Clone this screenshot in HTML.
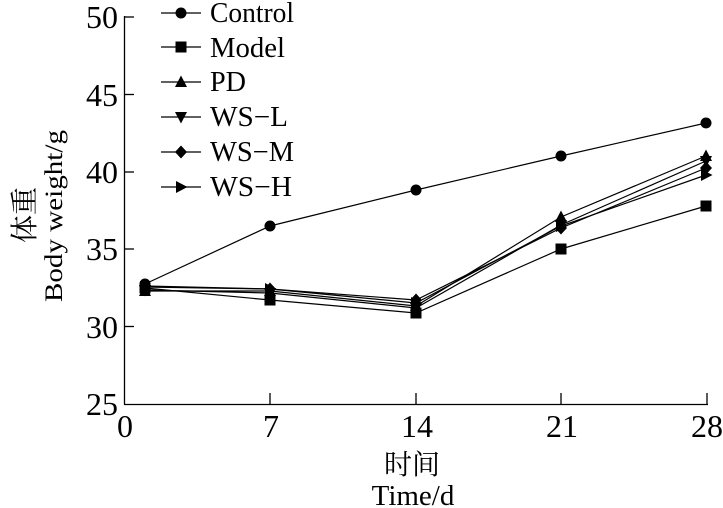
<!DOCTYPE html>
<html><head><meta charset="utf-8"><style>html,body{margin:0;padding:0;background:#fff;}svg{display:block}
.s{font-family:"Liberation Serif","Noto Serif CJK SC",serif;}
.c{font-family:"Noto Serif CJK SC","Liberation Serif",serif;}</style></head>
<body>
<svg width="723" height="508" viewBox="0 0 723 508" xmlns="http://www.w3.org/2000/svg" class="s">
<g stroke="#000" stroke-width="1.3" fill="none">
<line x1="124.5" y1="16" x2="124.5" y2="404.5"/>
<line x1="124" y1="404.5" x2="708" y2="404.5"/>
<line x1="124" y1="17" x2="134" y2="17"/>
<line x1="124" y1="94.5" x2="134" y2="94.5"/>
<line x1="124" y1="172" x2="134" y2="172"/>
<line x1="124" y1="249" x2="134" y2="249"/>
<line x1="124" y1="326.5" x2="134" y2="326.5"/>
<line x1="270" y1="404" x2="270" y2="393"/>
<line x1="416" y1="404" x2="416" y2="393"/>
<line x1="561" y1="404" x2="561" y2="393"/>
<line x1="707" y1="404" x2="707" y2="393"/>
</g>
<g font-size="32" text-anchor="end" fill="#000" class="s">
<text x="118" y="28">50</text><text x="118" y="106">45</text><text x="118" y="183">40</text><text x="118" y="260">35</text><text x="118" y="338">30</text><text x="118" y="415">25</text>
</g>
<g font-size="32" text-anchor="middle" fill="#000" class="s">
<text x="125" y="437">0</text><text x="271" y="437">7</text><text x="417" y="437">14</text><text x="562" y="437">21</text><text x="707" y="437">28</text>
</g>
<text x="412" y="474" font-size="28" text-anchor="middle" class="c">时间</text>
<text x="413" y="505" font-size="29" text-anchor="middle" class="s">Time/d</text>
<text transform="translate(34,215) rotate(-90)" font-size="28" text-anchor="middle" class="c">体重</text>
<text transform="translate(62,216) rotate(-90)" font-size="25" text-anchor="middle" textLength="172" lengthAdjust="spacingAndGlyphs" class="s">Body weight/g</text>

<defs>
<circle id="c" r="5.5" fill="#000"/>
<rect id="q" x="-5.5" y="-5.5" width="11" height="11" fill="#000"/>
<polygon id="u" points="0,-6.5 6,5 -6,5" fill="#000"/>
<polygon id="d" points="0,6.5 6,-5 -6,-5" fill="#000"/>
<polygon id="m" points="0,-6.5 6,0 0,6.5 -6,0" fill="#000"/>
<polygon id="r" points="6.5,0 -5,-6 -5,6" fill="#000"/>
</defs>
<g stroke="#000" stroke-width="1.2" fill="none">
<polyline points="145,284 270,226 416,190 561,156 706,123"/>
<polyline points="145,288 270,300 416,313 561,249 706,206"/>
<polyline points="145,291 270,291 416,306 561,217 706,156"/>
<polyline points="145,290 270,293 416,308 561,225 706,161"/>
<polyline points="145,286 270,289 416,300 561,228 706,168"/>
<polyline points="145,287 270,289 416,303 561,226 706,175"/>
</g>
<use href="#c" x="145" y="284"/><use href="#c" x="270" y="226"/><use href="#c" x="416" y="190"/><use href="#c" x="561" y="156"/><use href="#c" x="706" y="123"/>
<use href="#q" x="145" y="288"/><use href="#q" x="270" y="300"/><use href="#q" x="416" y="313"/><use href="#q" x="561" y="249"/><use href="#q" x="706" y="206"/>
<use href="#u" x="145" y="291"/><use href="#u" x="270" y="291"/><use href="#u" x="416" y="306"/><use href="#u" x="561" y="217"/><use href="#u" x="706" y="156"/>
<use href="#d" x="145" y="290"/><use href="#d" x="270" y="293"/><use href="#d" x="416" y="308"/><use href="#d" x="561" y="225"/><use href="#d" x="706" y="161"/>
<use href="#m" x="145" y="286"/><use href="#m" x="270" y="289"/><use href="#m" x="416" y="300"/><use href="#m" x="561" y="228"/><use href="#m" x="706" y="168"/>
<use href="#r" x="145" y="287"/><use href="#r" x="270" y="289"/><use href="#r" x="416" y="303"/><use href="#r" x="561" y="226"/><use href="#r" x="706" y="175"/>

<g stroke="#000" stroke-width="1.2">
<line x1="161" y1="13" x2="201" y2="13"/><line x1="161" y1="47" x2="201" y2="47"/><line x1="161" y1="82" x2="201" y2="82"/>
<line x1="161" y1="117" x2="201" y2="117"/><line x1="161" y1="152" x2="201" y2="152"/><line x1="161" y1="187" x2="201" y2="187"/>
</g>
<use href="#c" x="181" y="13"/><use href="#q" x="181" y="47"/><use href="#u" x="181" y="82"/><use href="#d" x="181" y="117"/><use href="#m" x="181" y="152"/><use href="#r" x="181" y="187"/>
<g font-size="28" fill="#000" class="s">
<text x="210" y="22" textLength="84" lengthAdjust="spacingAndGlyphs">Control</text>
<text x="210" y="57" textLength="75" lengthAdjust="spacingAndGlyphs">Model</text>
<text x="210" y="91" textLength="36" lengthAdjust="spacingAndGlyphs">PD</text>
<text x="210" y="126" textLength="78" lengthAdjust="spacingAndGlyphs">WS−L</text>
<text x="210" y="161" textLength="84" lengthAdjust="spacingAndGlyphs">WS−M</text>
<text x="210" y="196" textLength="82" lengthAdjust="spacingAndGlyphs">WS−H</text>
</g>
</svg>
</body></html>
